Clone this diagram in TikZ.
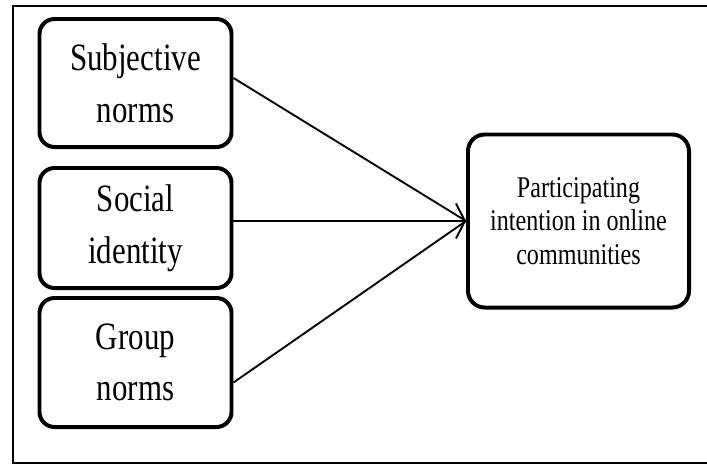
\documentclass[tikz,border=0pt]{standalone}
\usepackage{fontspec}
\setmainfont{Liberation Serif}[FakeStretch=0.8]
\usepackage{tikz}
\usetikzlibrary{arrows.meta}

\begin{document}
\begin{tikzpicture}[
      x=0.03cm,y=-0.03cm,
      factor/.style={rectangle,rounded corners=0.45cm,draw=black,line width=3.4pt,minimum width=5.76cm,align=center,font=\fontsize{33}{44}\selectfont},
      outcome/.style={rectangle,rounded corners=0.5cm,draw=black,line width=3.4pt,minimum width=6.63cm,minimum height=5.19cm,align=center,font=\fontsize{25.7}{28.5}\selectfont},
      link/.style={line width=1.6pt},
      >={Straight Barb[length=0.27cm,width=1.05cm]}
    ]
    \useasboundingbox (0,0) rectangle (707,466);
    % outer frame (right side cut off)
    \draw[line width=2.2pt] (707,6) -- (13,6) -- (13,463) -- (707,463);

    \node[factor,minimum height=3.84cm] (subj) at (135.5,83) {Subjective\\norms};
    \node[factor,minimum height=3.6cm] (soc) at (135.5,228) {Social\\identity};
    \node[factor,minimum height=3.87cm] (grp) at (135.5,362.5) {Group\\norms};

    \node[outcome] (part) at (578.5,221) {Participating\\intention in online\\communities};

    \draw[link] ([yshift=0.15cm]subj.east) -- (part.west);
    \draw[link,->] (part.west -| soc.east) -- (part.west);
    \draw[link] ([yshift=-0.6cm]grp.east) -- (part.west);
  \end{tikzpicture}
\end{document}
